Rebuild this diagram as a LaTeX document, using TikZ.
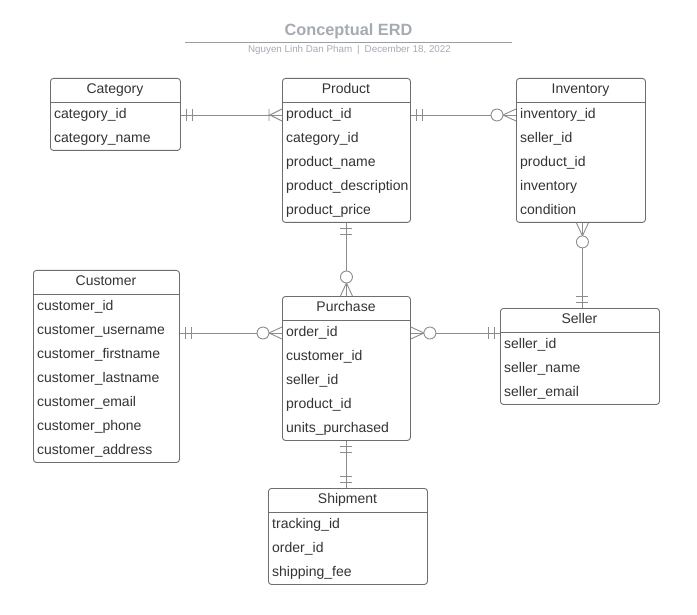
\documentclass[tikz,border=0pt]{standalone}
\usepackage{fontspec}
\setmainfont{Liberation Sans}
\usetikzlibrary{calc}

\definecolor{inkgray}{HTML}{333333}
\definecolor{boxgray}{HTML}{6E6E6E}
\definecolor{relgray}{HTML}{8C8C8C}
\definecolor{titlegray}{HTML}{A6AAB2}
\definecolor{rulegray}{HTML}{9A9CA2}

\tikzset{
  entbox/.style={draw=boxgray, line width=0.9pt, rounded corners=3pt, inner sep=0pt, anchor=north west},
  entline/.style={draw=boxgray, line width=0.9pt},
  entext/.style={font=\fontsize{14}{16}\selectfont, text=inkgray, inner sep=0pt, text height=10pt, text depth=3pt},
  field/.style={entext, anchor=west},
  rel/.style={draw=relgray, line width=0.9pt},
  % relationship ends: origin on the entity edge, +x pointing away from it
  one/.pic={\draw[rel] (6,-6) -- (6,6) (12,-6) -- (12,6);},
  onemany/.pic={\draw[rel] (0,-6) -- (12,0) -- (0,6) (13,-6) -- (13,6);},
  zeromany/.pic={\draw[rel] (0,-6) -- (13,0) -- (0,6); \draw[rel, fill=white] (19,0) circle (6);},
}

% #1 name, #2 left, #3 top, #4 width, #5 title, #6 number of fields, #7 fields
\newcommand\erdentity[7]{%
  \coordinate (#1-nw) at (#2,-#3);
  \node[entbox, minimum width=#4pt, minimum height={24*(#6+1)*1pt}] (#1) at (#1-nw) {};
  \draw[entline] ($(#1-nw)+(0,-24)$) -- ++(#4,0);
  \node[entext] (#1-title) at ($(#1-nw)+(#4/2,-12)$) {#5};
  \foreach \f [count=\i] in {#7} {
    \node[field] (#1-\i) at ($(#1-nw)+(4,-24*\i-13)$) {\f};
  }%
}

\begin{document}
\begin{tikzpicture}[x=1pt, y=1pt]
  \useasboundingbox (0,0) rectangle (697,-615);

  % heading
  \node[font=\bfseries\fontsize{16.3}{18}\selectfont, text=titlegray, inner sep=0pt] (title) at (348.5,-31) {Conceptual ERD};
  \draw[rulegray, line width=0.8pt] (185,-42) -- (512,-42);
  \node[font=\fontsize{9.8}{11}\selectfont, text=titlegray, inner sep=0pt] (byline) at (349.5,-50)
    {Nguyen Linh Dan Pham\hspace{5pt}|\hspace{5pt}December 18, 2022};

  % entities
  \erdentity{cat}{50}{78}{130}{Category}{2}{category\_id, category\_name}
  \erdentity{prod}{282}{78}{128}{Product}{5}{product\_id, category\_id, product\_name, product\_description, product\_price}
  \erdentity{inv}{516}{78}{129}{Inventory}{5}{inventory\_id, seller\_id, product\_id, inventory, condition}
  \erdentity{cust}{33}{270}{146}{Customer}{7}{customer\_id, customer\_username, customer\_firstname, customer\_lastname, customer\_email, customer\_phone, customer\_address}
  \erdentity{pur}{282}{296}{128}{Purchase}{5}{order\_id, customer\_id, seller\_id, product\_id, units\_purchased}
  \erdentity{sel}{500}{308}{159}{Seller}{3}{seller\_id, seller\_name, seller\_email}
  \erdentity{ship}{268}{488}{159}{Shipment}{3}{tracking\_id, order\_id, shipping\_fee}

  % Category -- Product
  \draw[rel] (cat.east |- cat-1) -- (prod.west |- cat-1);
  \pic at (cat.east |- cat-1) {one};
  \pic[rotate=180] at (prod.west |- cat-1) {onemany};

  % Product -- Inventory
  \draw[rel] (prod.east |- prod-1) -- (inv.west |- prod-1);
  \pic at (prod.east |- prod-1) {one};
  \pic[rotate=180] at (inv.west |- prod-1) {zeromany};

  % Product -- Purchase
  \draw[rel] (prod.south) -- (pur.north);
  \pic[rotate=-90] at (prod.south) {one};
  \pic[rotate=90] at (pur.north) {zeromany};

  % Customer -- Purchase
  \draw[rel] (cust.east |- pur-1) -- (pur.west |- pur-1);
  \pic at (cust.east |- pur-1) {one};
  \pic[rotate=180] at (pur.west |- pur-1) {zeromany};

  % Purchase -- Seller
  \draw[rel] (pur.east |- pur-1) -- (sel.west |- pur-1);
  \pic at (pur.east |- pur-1) {zeromany};
  \pic[rotate=180] at (sel.west |- pur-1) {one};

  % Inventory -- Seller
  \coordinate (invdrop) at ([xshift=1.5pt]inv.south);
  \draw[rel] (invdrop) -- (invdrop |- sel.north);
  \pic[rotate=-90] at (invdrop) {zeromany};
  \pic[rotate=90] at (invdrop |- sel.north) {one};

  % Purchase -- Shipment
  \draw[rel] (pur.south) -- (pur.south |- ship.north);
  \pic[rotate=-90] at (pur.south) {one};
  \pic[rotate=90] at (pur.south |- ship.north) {one};
\end{tikzpicture}
\end{document}
